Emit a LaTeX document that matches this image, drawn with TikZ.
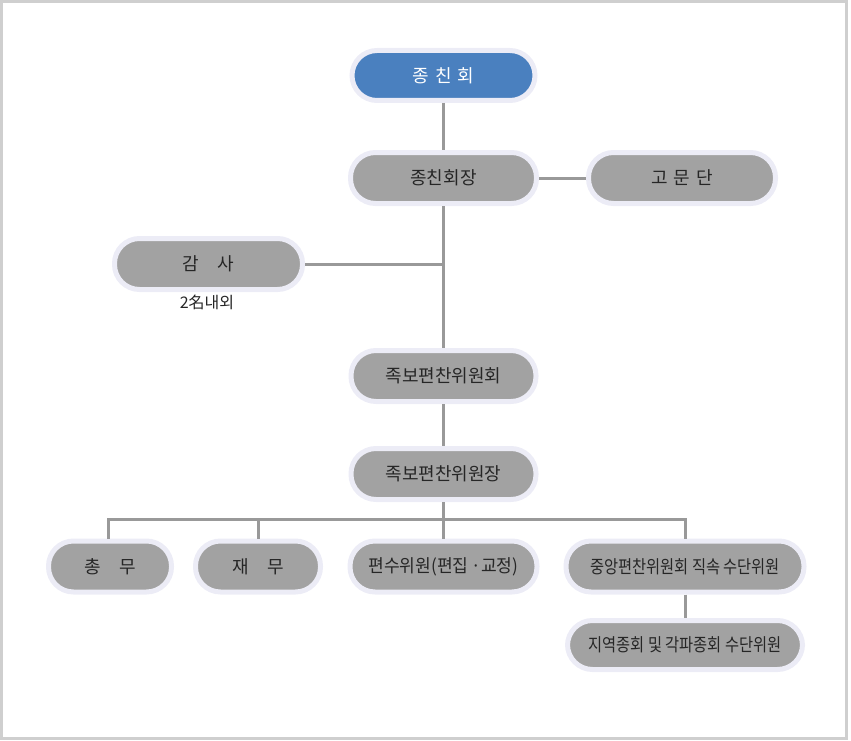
\documentclass[tikz,border=0pt]{standalone}
\usepackage{fontspec}
\setmainfont{Noto Sans CJK KR}
\newfontfamily\kr{Noto Sans CJK KR}
\newfontfamily\krn[FakeStretch=0.85]{Noto Sans CJK KR}
\newfontfamily\krm[FakeStretch=0.95]{Noto Sans CJK KR}
\definecolor{pillgray}{HTML}{A2A2A2}
\definecolor{halo}{HTML}{ECECF6}
\definecolor{pillblue}{HTML}{4A80BF}
\definecolor{linegray}{HTML}{999999}
\definecolor{framegray}{HTML}{CFCFCF}
\definecolor{txt}{HTML}{262626}
\tikzset{
  pill/.style={rectangle, rounded corners=25pt, fill=pillgray, draw=halo, line width=5pt,
    minimum height=51pt, inner sep=0pt, text=txt, font=\kr\fontsize{18pt}{21pt}\selectfont},
  narrow/.style={font=\krn\fontsize{18pt}{21pt}\selectfont},
  mid/.style={font=\krm\fontsize{18pt}{21pt}\selectfont},
  conn/.style={draw=linegray, line width=3pt},
}
\begin{document}
\begin{tikzpicture}[x=1pt,y=-1pt]
\useasboundingbox (0,0) rectangle (851,741);
\draw[framegray, line width=3pt] (1.5,1.5) rectangle (846.5,738.5);

\node[pill, fill=pillblue, text=white, minimum width=183pt, minimum height=50pt] (hoe) at (443.5,75.5) {종\hspace{6pt}친\hspace{6pt}회};
\node[pill, minimum width=186pt] (hoejang) at (443.5,178) {종친회장};
\node[pill, minimum width=187pt] (gomun) at (682,178) {고\hspace{6pt}문\hspace{6pt}단};
\node[pill, minimum width=188pt] (gamsa) at (208.5,264) {감\hspace{18pt}사};
\node[font=\kr\fontsize{16pt}{19pt}\selectfont, text=txt] (gamsanote) at (207,302) {2名내외};
\node[pill, minimum width=185pt] (jokbo1) at (443.5,376) {족보편찬위원회};
\node[pill, minimum width=185pt] (jokbo2) at (443.5,474) {족보편찬위원장};
\node[pill, minimum width=123pt] (chongmu) at (110,566.5) {총\hspace{18pt}무};
\node[pill, minimum width=125pt] (jaemu) at (258,566.5) {재\hspace{18pt}무};
\node[pill, mid, minimum width=187pt] (pyeonsu) at (443.5,566.5) {편수위원(편집\,·교정)};
\node[pill, narrow, minimum width=238pt] (jungang) at (685,566.5) {중앙편찬위원회 직속 수단위원};
\node[pill, narrow, minimum width=235pt, minimum height=49pt] (jiyeok) at (685,645) {지역종회 및 각파종회 수단위원};

\coordinate (bus) at (443.5,519.5);

\draw[conn] (hoe.south) -- (hoejang.north);
\draw[conn] (hoejang.east) -- (gomun.west);
\draw[conn] (hoejang.south) -- (jokbo1.north);
\draw[conn] (gamsa.east) -- (gamsa.east -| hoejang.south);
\draw[conn] (jokbo1.south) -- (jokbo2.north);
\draw[conn] (jokbo2.south) -- (bus);
\draw[conn] (chongmu.north -| 108,0) |- (bus) -| (jungang.north);
\draw[conn] (jaemu.north) -- (jaemu.north |- bus);
\draw[conn] (pyeonsu.north) -- (bus);
\draw[conn] (jungang.south) -- (jiyeok.north);
\end{tikzpicture}
\end{document}
